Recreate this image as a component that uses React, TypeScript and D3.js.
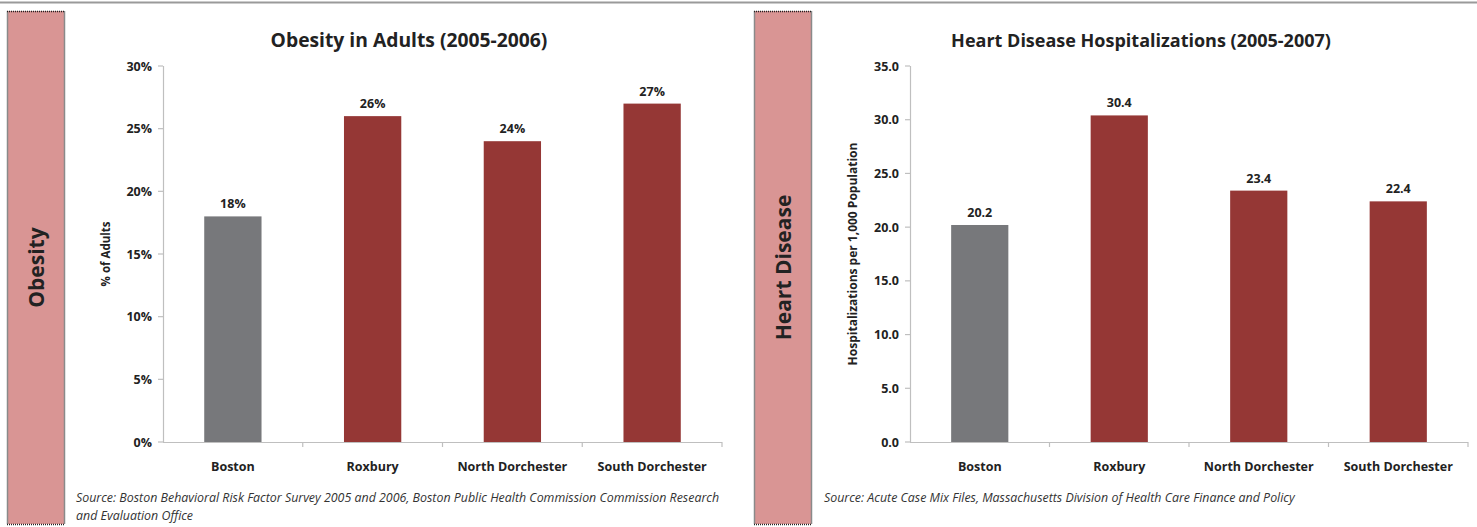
import React from "react";
import * as d3 from "d3";

const W = 1477;
const H = 527;

const categories = ["Boston", "Roxbury", "North Dorchester", "South Dorchester"];
const obesityValues = [18, 26, 24, 27];
const obesityTicks = [0, 5, 10, 15, 20, 25, 30];
const heartValues = [20.2, 30.4, 23.4, 22.4];
const heartTicks = [0, 5, 10, 15, 20, 25, 30, 35];
const barColors = ["#77787b", "#953735", "#953735", "#953735"];

const FONT = "'Open Sans', 'DejaVu Sans', sans-serif";

type PanelProps = {
  bandX: number;
  bandLabel: string;
  title: string;
  titleX: number;
  titleSize: number;
  axisX0: number;
  axisX1: number;
  yMax: number;
  ticks: number[];
  values: number[];
  fmtTick: (v: number) => string;
  fmtLabel: (v: number) => string;
  yTitle: string;
  yTitleX: number;
  yTitleSize: number;
  sourceLines: string[];
  sourceX: number;
};

function Panel(p: PanelProps) {
  const y = d3.scaleLinear().domain([0, p.yMax]).range([442, 66]);
  const x = d3.scaleBand().domain(categories).range([p.axisX0, p.axisX1]).paddingInner(0.59).paddingOuter(0.295);
  const band = d3.scaleBand().domain(categories).range([p.axisX0, p.axisX1]);
  const bandW = 58;
  const bandTop = 11;
  const bandBottom = 524;
  return (
    <g>
      {/* section band */}
      <rect x={p.bandX} y={bandTop} width={bandW} height={bandBottom - bandTop} fill="#d99594" />
      <line x1={p.bandX + 0.5} x2={p.bandX + 0.5} y1={bandTop} y2={bandBottom} stroke="#8a8a8a" strokeWidth={1.5} />
      <line x1={p.bandX + bandW - 0.5} x2={p.bandX + bandW - 0.5} y1={bandTop} y2={bandBottom} stroke="#8a8a8a" strokeWidth={1.5} />
      <line x1={p.bandX} x2={p.bandX + bandW} y1={bandTop + 0.5} y2={bandTop + 0.5} stroke="#222" strokeWidth={1.5} strokeDasharray="1,1" />
      <line x1={p.bandX} x2={p.bandX + bandW} y1={bandBottom + 0.5} y2={bandBottom + 0.5} stroke="#222" strokeWidth={1.5} strokeDasharray="1,1" />
      <text
        transform={`translate(${p.bandX + bandW / 2 + 8},${(bandTop + bandBottom) / 2}) rotate(-90)`}
        textAnchor="middle"
        fontFamily={FONT}
        fontWeight="bold"
        fontSize={21}
        fill="#222"
      >
        {p.bandLabel}
      </text>

      {/* title */}
      <text x={p.titleX} y={47} textAnchor="middle" fontFamily={FONT} fontWeight="bold" fontSize={p.titleSize} fill="#222">
        {p.title}
      </text>

      {/* y axis */}
      <line x1={p.axisX0 + 0.5} x2={p.axisX0 + 0.5} y1={y(p.yMax)} y2={y(0)} stroke="#bfbfbf" strokeWidth={1.2} />
      {p.ticks.map((t) => (
        <g key={t}>
          <line x1={p.axisX0 - 5} x2={p.axisX0} y1={y(t)} y2={y(t)} stroke="#bfbfbf" strokeWidth={1.2} />
          <text x={p.axisX0 - 11} y={y(t) + 4.5} textAnchor="end" fontFamily={FONT} fontWeight="bold" fontSize={12.5} fill="#222">
            {p.fmtTick(t)}
          </text>
        </g>
      ))}
      <text
        transform={`translate(${p.yTitleX},${254}) rotate(-90)`}
        textAnchor="middle"
        fontFamily={FONT}
        fontWeight="bold"
        fontSize={p.yTitleSize}
        fill="#222"
      >
        {p.yTitle}
      </text>

      {/* bars */}
      {categories.map((c, i) => (
        <g key={c}>
          <rect x={x(c)} y={y(p.values[i])} width={x.bandwidth()} height={y(0) - y(p.values[i])} fill={barColors[i]} />
          <text
            x={(x(c) as number) + x.bandwidth() / 2}
            y={y(p.values[i]) - 8}
            textAnchor="middle"
            fontFamily={FONT}
            fontWeight="bold"
            fontSize={12.5}
            fill="#222"
          >
            {p.fmtLabel(p.values[i])}
          </text>
          <text
            x={(band(c) as number) + band.bandwidth() / 2}
            y={471}
            textAnchor="middle"
            fontFamily={FONT}
            fontWeight="bold"
            fontSize={12.5}
            fill="#222"
          >
            {c}
          </text>
        </g>
      ))}

      {/* x axis */}
      <line x1={p.axisX0} x2={p.axisX1} y1={y(0) + 0.5} y2={y(0) + 0.5} stroke="#bfbfbf" strokeWidth={1.2} />
      {categories.map((c) => (
        <line key={c} x1={(band(c) as number) + band.bandwidth()} x2={(band(c) as number) + band.bandwidth()} y1={y(0)} y2={y(0) + 5} stroke="#bfbfbf" strokeWidth={1.2} />
      ))}

      {/* source */}
      {p.sourceLines.map((s, i) => (
        <text key={i} x={p.sourceX} y={502 + i * 18} fontFamily={FONT} fontStyle="italic" fontSize={12.4} fill="#333">
          {s}
        </text>
      ))}
    </g>
  );
}

export default function App() {
  return (
    <svg width={W} height={H} style={{ position: "absolute", left: 0, top: 0, background: "#fff" }}>
      <rect x={0} y={0} width={W} height={H} fill="#fff" />
      <line x1={0} x2={W} y1={2.5} y2={2.5} stroke="#9a9a9a" strokeWidth={2} />
      <Panel
        bandX={7}
        bandLabel="Obesity"
        title="Obesity in Adults (2005-2006)"
        titleX={409}
        titleSize={19.3}
        axisX0={163}
        axisX1={722}
        yMax={30}
        ticks={obesityTicks}
        values={obesityValues}
        fmtTick={(v) => `${v}%`}
        fmtLabel={(v) => `${v}%`}
        yTitle="% of Adults"
        yTitleX={110}
        yTitleSize={11.5}
        sourceLines={[
          "Source: Boston Behavioral Risk Factor Survey 2005 and 2006, Boston Public Health Commission Commission Research",
          "and Evaluation Office",
        ]}
        sourceX={76}
      />
      <Panel
        bandX={754}
        bandLabel="Heart Disease"
        title="Heart Disease Hospitalizations (2005-2007)"
        titleX={1141}
        titleSize={18}
        axisX0={910}
        axisX1={1468}
        yMax={35}
        ticks={heartTicks}
        values={heartValues}
        fmtTick={(v) => v.toFixed(1)}
        fmtLabel={(v) => v.toFixed(1)}
        yTitle="Hospitalizations  per 1,000 Population"
        yTitleX={857}
        yTitleSize={12}
        sourceLines={["Source: Acute Case Mix Files, Massachusetts Division of Health Care Finance and Policy"]}
        sourceX={824}
      />
    </svg>
  );
}
